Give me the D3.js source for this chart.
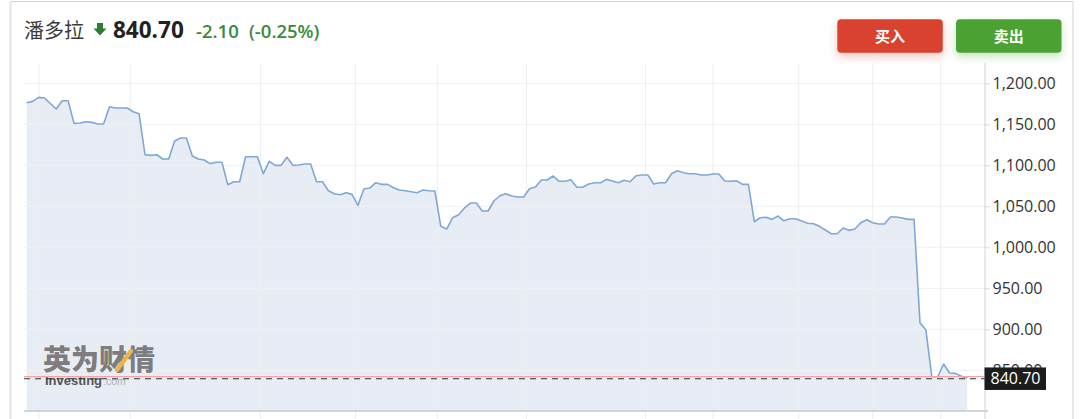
<!DOCTYPE html>
<html><head><meta charset="utf-8">
<script src="https://cdn.jsdelivr.net/npm/d3@7"></script>
<style>
html,body{margin:0;padding:0;background:#fff;}
svg{display:block;}
</style></head>
<body>
<svg id="c" width="1080" height="419"></svg>
<script>
// ---- data ----
const title = "潘多拉";
const lastPrice = 840.70;
const changeText = "-2.10";
const changePctText = "(-0.25%)";
const refLevel = 842.2;
const buyLabel = "买入";
const sellLabel = "卖出";
const yTicks = [850, 900, 950, 1000, 1050, 1100, 1150, 1200];
const xGridIdx = [2.08, 17.5, 39.5, 55.6, 69.4, 84.5, 104.6, 116.0, 130.5, 143.0, 154.5];
const prices = [
 1176.3,1178.0,1182.9,1182.1,1175.4,1168.7,1178.8,1178.8,1151.2,1151.6,
 1153.2,1152.4,1150.4,1150.4,1171.5,1169.9,1169.9,1169.9,1165.4,1162.9,
 1112.9,1112.2,1112.9,1107.7,1107.7,1129.6,1133.3,1133.3,1111.3,1107.7,
 1106.5,1102.0,1103.7,1103.7,1076.3,1080.0,1080.0,1110.5,1110.5,1110.5,
 1089.8,1104.9,1100.0,1100.0,1109.8,1100.0,1100.4,1101.6,1101.6,1080.0,
 1080.0,1069.0,1065.4,1064.1,1066.6,1064.6,1051.2,1071.1,1072.3,1078.8,
 1076.8,1076.8,1072.7,1069.9,1069.0,1067.8,1066.6,1069.9,1069.0,1068.7,
 1025.6,1022.3,1036.1,1039.8,1047.9,1054.0,1054.0,1044.3,1044.3,1056.8,
 1062.9,1065.4,1062.6,1061.3,1061.3,1071.5,1073.5,1082.1,1082.1,1087.0,
 1080.5,1080.5,1082.4,1073.2,1073.2,1077.2,1078.8,1078.8,1082.9,1080.9,
 1078.8,1081.7,1080.0,1087.3,1088.2,1088.2,1077.2,1078.8,1078.8,1089.8,
 1093.4,1091.0,1089.8,1089.8,1088.2,1088.2,1089.4,1089.4,1080.9,1080.5,
 1081.2,1076.8,1076.8,1031.2,1036.1,1036.6,1034.1,1038.2,1032.4,1034.9,
 1034.9,1032.1,1029.3,1028.8,1025.6,1021.1,1016.6,1016.6,1023.5,1020.7,
 1022.3,1030.0,1033.7,1030.0,1028.4,1028.4,1037.0,1037.0,1035.7,1034.1,
 1034.1,908.0,899.1,842.2,842.2,857.7,846.7,846.3,842.8,840.7
];

// ---- layout ----
const svg = d3.select("#c");
const L = 24, R = 984.5, T = 63, B = 411;
const x = d3.scaleLinear().domain([0, prices.length - 1]).range([26.7, 967.3]);
const y = d3.scaleLinear().domain([800.4, 1224.8]).range([B, T]);

// card border
svg.append("rect").attr("x", 10.5).attr("y", 1.5).attr("width", 1062.5).attr("height", 430)
  .attr("fill", "#fff").attr("stroke", "#d4d4d4").attr("stroke-width", 1);
svg.append("line").attr("x1", 10.5).attr("x2", 10.5).attr("y1", 2).attr("y2", 419)
  .attr("stroke", "#e4e4e4").attr("stroke-width", 2);

// header
const hdr = svg.append("g");
hdr.append("text").attr("x", 24).attr("y", 38)
  .attr("font-family", "'Noto Sans CJK SC', sans-serif").attr("font-size", 20)
  .attr("fill", "#3a3a3a").text(title);
// down arrow
hdr.append("path")
  .attr("d", "M97,23 h6 v5.5 h3.5 l-6.5,7 l-6.5,-7 h3.5 z")
  .attr("fill", "#2f7d32");
hdr.append("text").attr("x", 113).attr("y", 37.5)
  .attr("font-family", "'Open Sans', sans-serif").attr("font-size", 22.5).attr("font-weight", 700)
  .attr("fill", "#222").text(d3.format(".2f")(lastPrice));
hdr.append("text").attr("x", 196).attr("y", 37.5)
  .attr("font-family", "'Open Sans', sans-serif").attr("font-size", 18.5).attr("font-weight", 600)
  .attr("fill", "#3a8a3e").text(changeText);
hdr.append("text").attr("x", 249).attr("y", 37.5)
  .attr("font-family", "'Open Sans', sans-serif").attr("font-size", 18.5).attr("font-weight", 600)
  .attr("fill", "#3a8a3e").text(changePctText);

// buttons with glow
const defs = svg.append("defs");
function glow(id, color) {
  const f = defs.append("filter").attr("id", id).attr("x", "-30%").attr("y", "-50%").attr("width", "160%").attr("height", "220%");
  f.append("feDropShadow").attr("dx", 0).attr("dy", 4).attr("stdDeviation", 4)
    .attr("flood-color", color).attr("flood-opacity", 0.3);
}
glow("gr", "#d8432f"); glow("gg", "#4ba232");
const buttons = [
  {label: buyLabel, x0: 837.3, color: "#d9432f", f: "gr"},
  {label: sellLabel, x0: 956, color: "#4ca232", f: "gg"}
];
buttons.forEach(b => {
  svg.append("rect").attr("x", b.x0).attr("y", 19.3).attr("width", 105.5).attr("height", 33.4)
    .attr("rx", 4).attr("fill", b.color).attr("filter", `url(#${b.f})`);
  svg.append("text").attr("x", b.x0 + 52.75).attr("y", 41.5).attr("text-anchor", "middle")
    .attr("font-family", "'Noto Sans CJK SC', sans-serif").attr("font-size", 15).attr("font-weight", 700)
    .attr("fill", "#fff").text(b.label);
});

// grid
const grid = svg.append("g");
grid.selectAll(".hg").data(yTicks).join("line")
  .attr("x1", L).attr("x2", R).attr("y1", d => y(d)).attr("y2", d => y(d))
  .attr("stroke", "#eff1f4").attr("stroke-width", 1);
grid.selectAll(".vg").data(xGridIdx).join("line")
  .attr("x1", d => x(d)).attr("x2", d => x(d)).attr("y1", T).attr("y2", 419)
  .attr("stroke", "#eceef2").attr("stroke-width", 1);

// area & line
const area = d3.area().x((d, i) => x(i)).y0(B).y1(d => y(d));
const line = d3.line().x((d, i) => x(i)).y(d => y(d));
svg.append("path").datum(prices).attr("d", area).attr("fill", "#e6ecf4").attr("fill-opacity", 0.92);
grid.raise();
svg.append("path").datum(prices).attr("d", line).attr("fill", "none")
  .attr("stroke", "#7ea8d5").attr("stroke-width", 1.6).attr("stroke-linejoin", "round");

// watermark
const wm = svg.append("g");
wm.append("text").attr("x", 43).attr("y", 370)
  .attr("font-family", "'Noto Sans CJK SC', sans-serif").attr("font-size", 28).attr("font-weight", 900)
  .attr("fill", "#6e6e6e").attr("fill-opacity", 0.9).attr("letter-spacing", 0).text("英为财情");
wm.append("path").attr("d", "M117,370 L131,351").attr("stroke", "#f2b24a").attr("stroke-width", 4.5).attr("stroke-linecap", "round");
wm.append("text").attr("x", 45).attr("y", 384.5)
  .attr("font-family", "'Liberation Sans', sans-serif").attr("font-size", 13).attr("font-weight", 700)
  .attr("fill", "#555").text("Investing");
wm.append("text").attr("x", 103).attr("y", 384.5)
  .attr("font-family", "'Liberation Sans', sans-serif").attr("font-size", 10.5)
  .attr("fill", "#b0b0b0").text(".com");

// bottom axis line
svg.append("line").attr("x1", L).attr("x2", 988).attr("y1", B).attr("y2", B)
  .attr("stroke", "#c3c7cc").attr("stroke-width", 1.5);

// right axis
const yAxis = d3.axisRight(y).tickValues(yTicks).tickFormat(d3.format(",.2f"))
  .tickSize(5).tickSizeOuter(0).tickPadding(3);
const ax = svg.append("g").attr("transform", `translate(${R},0)`).call(yAxis);
ax.select(".domain").attr("d", `M0.5,${T}V${419}`).attr("stroke", "#d0d3d8");
ax.selectAll(".tick line").attr("stroke", "#d0d3d8");
ax.selectAll(".tick text").attr("font-family", "'Open Sans', sans-serif").attr("font-size", 16)
  .attr("fill", "#333");

// reference + last price lines
svg.append("line").attr("x1", L).attr("x2", R).attr("y1", y(refLevel)).attr("y2", y(refLevel))
  .attr("stroke", "#f3a3a3").attr("stroke-width", 1.2);
svg.append("line").attr("x1", L).attr("x2", R).attr("y1", y(lastPrice) + 0.8).attr("y2", y(lastPrice) + 0.8)
  .attr("stroke", "#333").attr("stroke-width", 1.2).attr("stroke-dasharray", "6,5");

// last price tag
const ty = y(lastPrice);
svg.append("rect").attr("x", R).attr("y", ty - 10.5).attr("width", 61.5).attr("height", 22.5).attr("fill", "#1c1c1c");
svg.append("text").attr("x", R + 31).attr("y", ty + 6.5).attr("text-anchor", "middle")
  .attr("font-family", "'Open Sans', sans-serif").attr("font-size", 16).attr("fill", "#fff")
  .text(d3.format(".2f")(lastPrice));
</script>
</body></html>
